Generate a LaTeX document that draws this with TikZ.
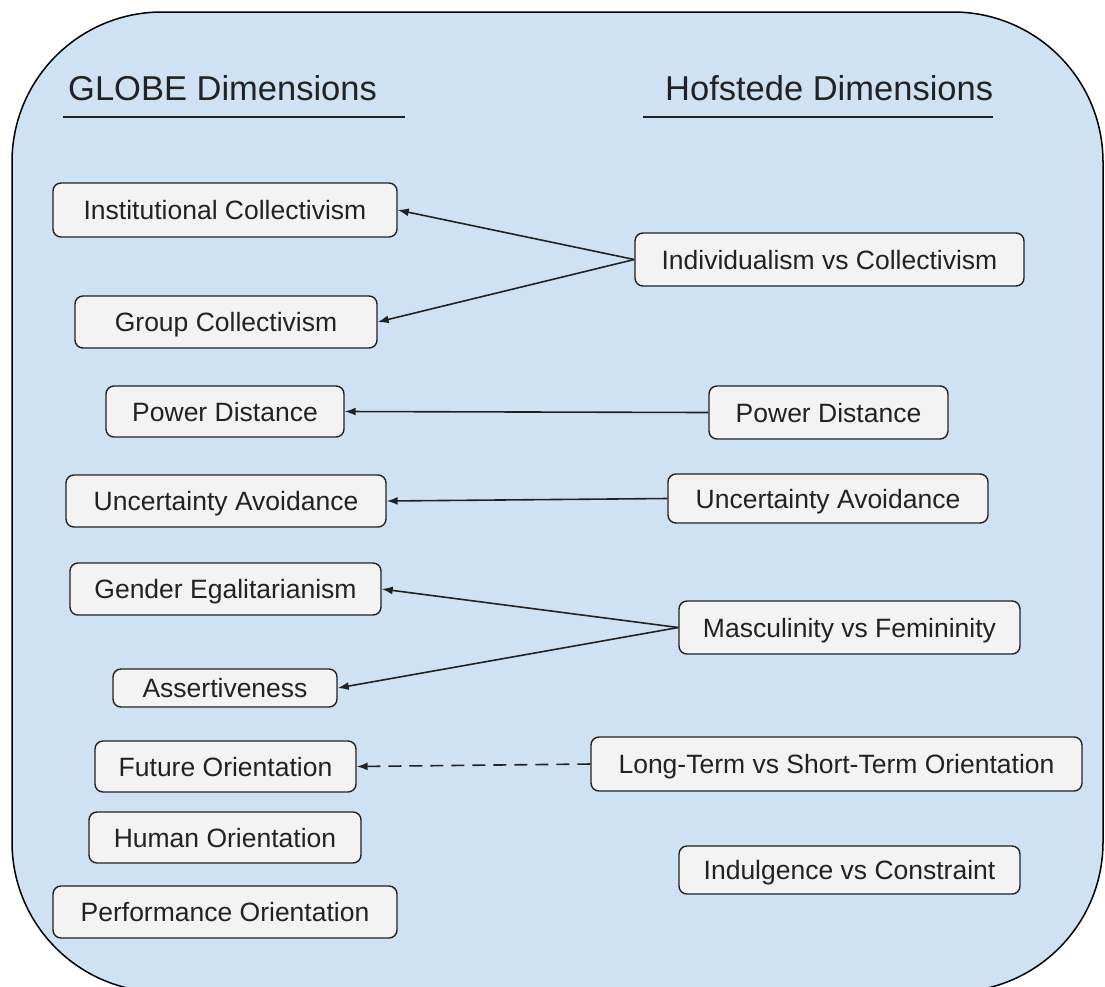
\documentclass[tikz,border=0pt]{standalone}
\usepackage{fontspec}
\setmainfont{Liberation Sans}
\usetikzlibrary{arrows.meta}
\definecolor{panel}{HTML}{CFE2F3}
\definecolor{boxfill}{HTML}{F3F3F3}
\definecolor{ink}{HTML}{222222}
\begin{document}
\begin{tikzpicture}[x=1pt,y=-1pt,
  dim/.style 2 args={draw=ink, line width=1.4pt, fill=boxfill, rounded corners=8pt,
    text=ink, font=\fontsize{26.5}{30}\selectfont, inner sep=0pt,
    text height=19pt, text depth=0pt,
    minimum width=#1pt, minimum height=#2pt},
  link/.style={draw=ink, line width=1.6pt, -{Latex[length=11pt,width=8pt]}},
  heading/.style={font=\fontsize{34.5}{40}\selectfont, text=ink, inner sep=0pt, anchor=base west},
  rule/.style={draw=ink, line width=1.5pt}]

\useasboundingbox (0,0) rectangle (1105,986);
\clip (0,0) rectangle (1105,986);

% panel behind both columns
\draw[fill=panel, draw=black, line width=1.5pt, rounded corners=150pt] (12,12) rectangle (1103,992);

% column headings
\node[heading] (globe) at (68,100) {GLOBE Dimensions};
\node[heading] (hof) at (665,100) {Hofstede Dimensions};
\coordinate (gl1) at (63,117);  \coordinate (gl2) at (405,117);
\coordinate (hl1) at (643,117); \coordinate (hl2) at (993,117);
\draw[rule] (gl1) -- (gl2);
\draw[rule] (hl1) -- (hl2);

% GLOBE dimensions
\node[dim={344}{54}] (inst) at (225,210)   {Institutional Collectivism};
\node[dim={302}{52}] (grp)  at (226,322)   {Group Collectivism};
\node[dim={238}{51}] (pdl)  at (225,411.5) {Power Distance};
\node[dim={320}{52}] (ual)  at (226,501)   {Uncertainty Avoidance};
\node[dim={311}{52}] (gen)  at (225.5,589) {Gender Egalitarianism};
\node[dim={224}{38}] (ass)  at (225,688)   {Assertiveness};
\node[dim={261}{51}] (fut)  at (225.5,766.5) {Future Orientation};
\node[dim={272}{51}] (hum)  at (225,837.5) {Human Orientation};
\node[dim={344}{52}] (perf) at (225,912)   {Performance Orientation};

% Hofstede dimensions
\node[dim={389}{53}] (ind)  at (829.5,259.5) {Individualism vs Collectivism};
\node[dim={239}{53}] (pdr)  at (828.5,412.5) {Power Distance};
\node[dim={320}{49}] (uar)  at (828,498.5)   {Uncertainty Avoidance};
\node[dim={341}{53}] (mas)  at (849.5,627.5) {Masculinity vs Femininity};
\node[dim={491}{54}] (lto)  at (836.5,764)   {Long-Term vs Short-Term Orientation};
\node[dim={341}{48}] (ivr)  at (849.5,870)   {Indulgence vs Constraint};

% correspondences
\draw[link] (ind.west) -- (inst.east);
\draw[link] (ind.west) -- (grp.east);
\draw[link] (pdr.west) -- (pdl.east);
\draw[link] (uar.west) -- (ual.east);
\draw[link] (mas.west) -- (gen.east);
\draw[link] (mas.west) -- (ass.east);
\draw[link, dash pattern=on 13pt off 8pt] (lto.west) -- (fut.east);
\end{tikzpicture}
\end{document}
